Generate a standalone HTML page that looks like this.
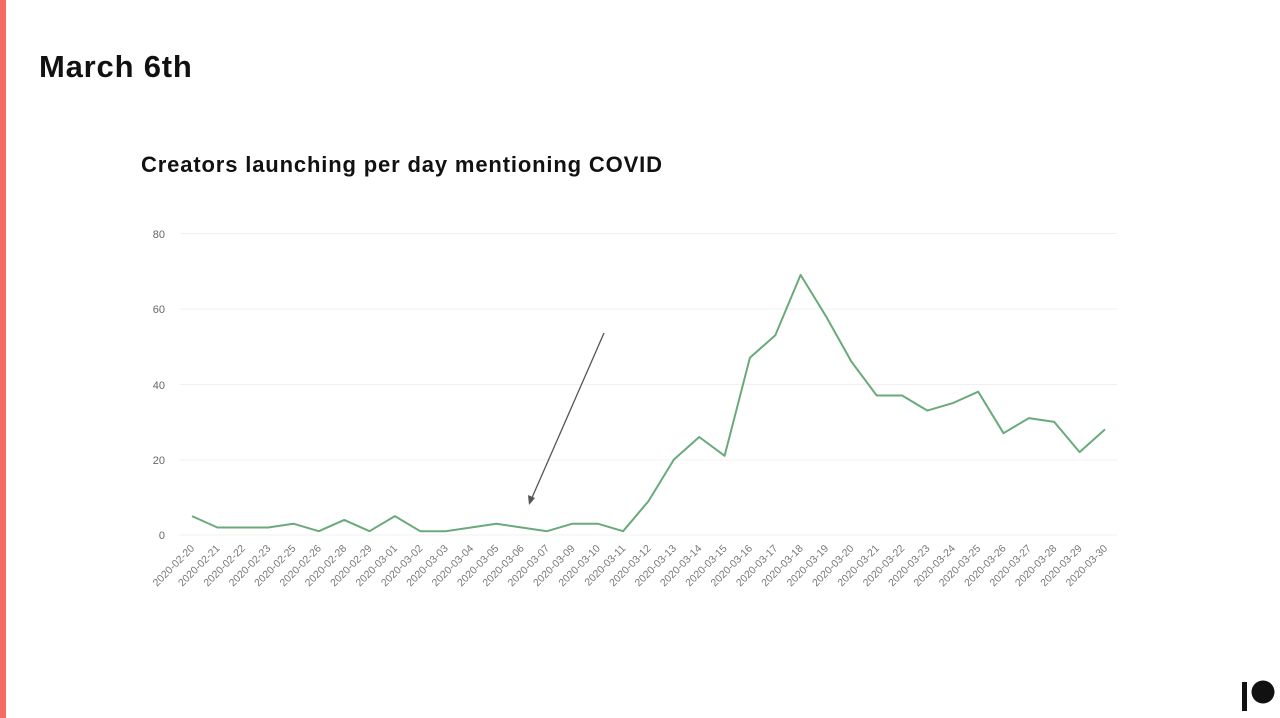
<!DOCTYPE html>
<html><head><meta charset="utf-8"><style>
body{margin:0;width:1280px;height:718px;background:#fff;overflow:hidden;position:relative;font-family:"Liberation Sans",sans-serif}
.bar{position:absolute;left:0;top:0;width:6px;height:718px;background:#f46d63}
h1{position:absolute;left:39px;top:49px;margin:0;font-size:31px;letter-spacing:0.8px;font-weight:bold;color:#111}
h2{position:absolute;left:141px;top:152px;margin:0;font-size:22px;letter-spacing:0.85px;font-weight:bold;color:#111}
</style></head><body>
<div class="bar"></div>
<h1>March 6th</h1>
<h2>Creators launching per day mentioning COVID</h2>
<svg width="1280" height="718" style="position:absolute;left:0;top:0" font-family="Liberation Sans, sans-serif">
<g stroke="#f0f0f0" stroke-width="1">
<line x1="180" x2="1117" y1="233.5" y2="233.5"/><line x1="180" x2="1117" y1="309" y2="309"/><line x1="180" x2="1117" y1="384.5" y2="384.5"/><line x1="180" x2="1117" y1="460" y2="460"/><line x1="180" x2="1117" y1="535" y2="535"/>
</g>
<g font-size="11" fill="#666" text-anchor="end">
<text x="165" y="238">80</text><text x="165" y="313">60</text><text x="165" y="389">40</text><text x="165" y="464">20</text><text x="165" y="539">0</text>
</g>
<g id="lab" font-size="10.5" fill="#777" text-anchor="end"></g>
<polyline id="ln" fill="none" stroke="#6aaa7a" stroke-width="2" stroke-linejoin="round"/>
<line x1="604" y1="333" x2="531" y2="500" stroke="#555" stroke-width="1.3"/>
<polygon points="529,505 528,495 535,498" fill="#555"/>
<rect x="1242" y="682" width="5" height="29" fill="#111"/>
<circle cx="1263" cy="692" r="11.5" fill="#111"/>
</svg>
<script>
var d=["02-20","02-21","02-22","02-23","02-25","02-26","02-28","02-29","03-01","03-02","03-03","03-04","03-05","03-06","03-07","03-09","03-10","03-11","03-12","03-13","03-14","03-15","03-16","03-17","03-18","03-19","03-20","03-21","03-22","03-23","03-24","03-25","03-26","03-27","03-28","03-29","03-30"];
var v=[5,2,2,2,3,1,4,1,5,1,1,2,3,2,1,3,3,1,9,20,26,21,47,53,69,58,46,37,37,33,35,38,27,31,30,22,28];
var pts=[],g=document.getElementById('lab'),s='';
for(var i=0;i<d.length;i++){var x=192+i*25.36,y=535-v[i]*3.77;pts.push(x.toFixed(1)+','+y.toFixed(1));
s+='<text transform="translate('+(x+3)+',549) rotate(-45)">2020-'+d[i]+'</text>';}
g.innerHTML=s;document.getElementById('ln').setAttribute('points',pts.join(' '));
</script>
</body></html>
